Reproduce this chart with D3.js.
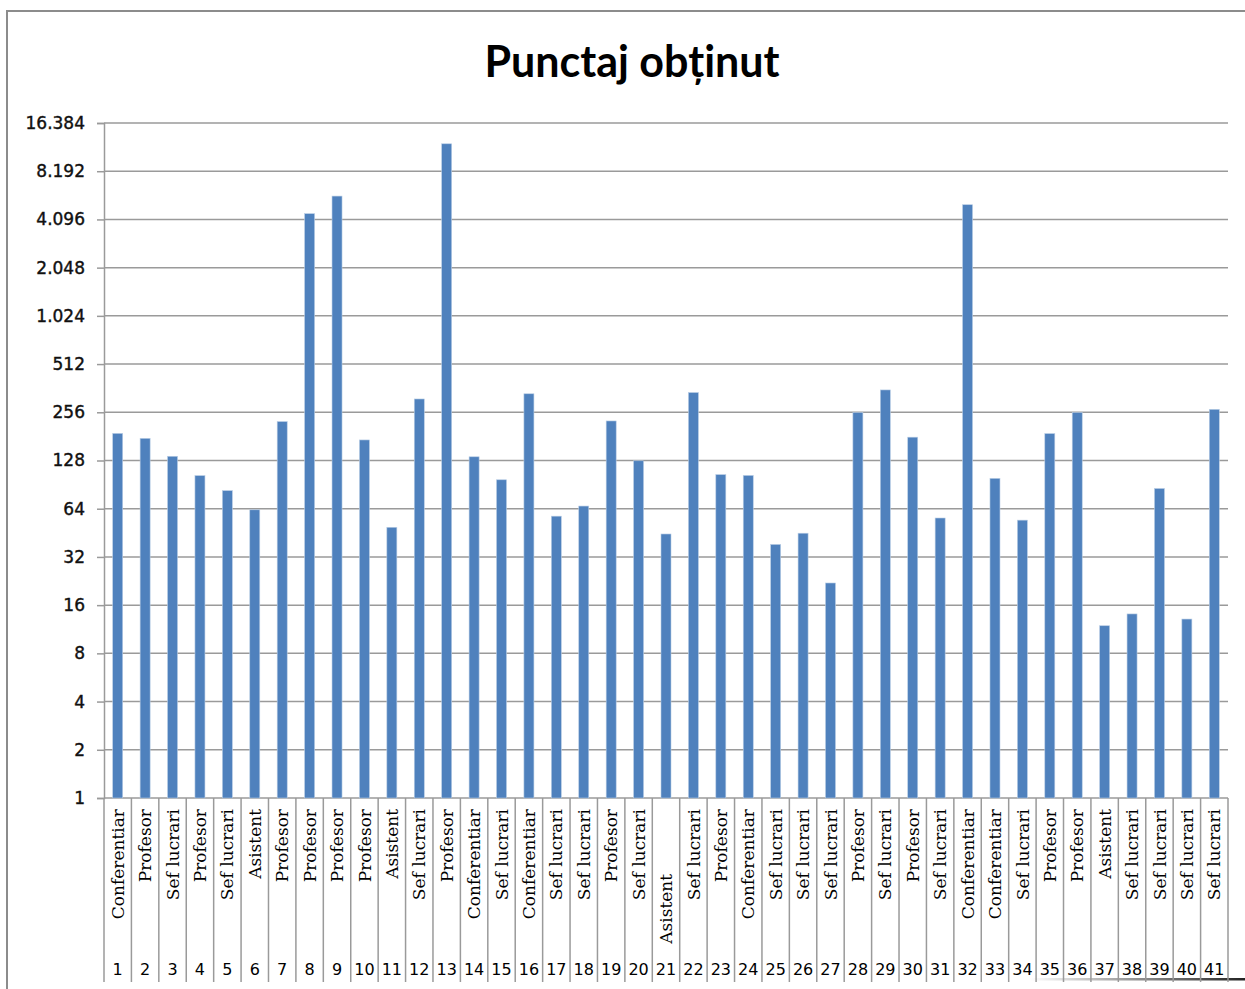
<!DOCTYPE html>
<html>
<head>
<meta charset="utf-8">
<script src="https://cdn.jsdelivr.net/npm/d3@7"></script>
<style>
  body { margin: 0; background: #fff; }
  svg { display: block; }
</style>
</head>
<body>
<div id="chart"></div>
<script>
// data
var ids = d3.range(1, 42).map(String);
var ranks = ["Conferentiar", "Profesor", "Sef lucrari", "Profesor", "Sef lucrari", "Asistent", "Profesor",
  "Profesor", "Profesor", "Profesor", "Asistent", "Sef lucrari", "Profesor", "Conferentiar",
  "Sef lucrari", "Conferentiar", "Sef lucrari", "Sef lucrari", "Profesor", "Sef lucrari",
  "Asistent            ", "Sef lucrari", "Profesor", "Conferentiar", "Sef lucrari", "Sef lucrari",
  "Sef lucrari", "Profesor", "Sef lucrari", "Profesor", "Sef lucrari", "Conferentiar",
  "Conferentiar", "Sef lucrari", "Profesor", "Profesor", "Asistent", "Sef lucrari",
  "Sef lucrari", "Sef lucrari", "Sef lucrari"];
var scores = [189, 176, 136, 103, 83, 63, 224, 4450, 5730, 172, 49, 310, 12150, 135,
  97, 334, 57.5, 66.5, 226, 127.5, 44.5, 340, 104.5, 103.3, 38.3, 45, 22, 255, 353, 179,
  56, 5060, 99, 54.3, 188.5, 255, 11.9, 14.1, 85.6, 13.1, 267];
var yTicks = [1, 2, 4, 8, 16, 32, 64, 128, 256, 512, 1024, 2048, 4096, 8192, 16384];

var width = 1245, height = 989;
var plot = {left: 104, right: 1228, top: 123, bottom: 798, catBottom: 982};

var svg = d3.select("#chart").append("svg")
  .attr("width", width)
  .attr("height", height);

// chart frame
svg.append("rect")
  .attr("x", 7).attr("y", 11)
  .attr("width", 1300).attr("height", 1100)
  .attr("fill", "none")
  .attr("stroke", "#8c8c8c")
  .attr("stroke-width", 2);

// little page shadow at the bottom right
var grad = svg.append("defs").append("linearGradient").attr("id", "shade");
grad.append("stop").attr("offset", "0%").attr("stop-color", "#fff");
grad.append("stop").attr("offset", "100%").attr("stop-color", "#222");
svg.append("rect")
  .attr("x", 1030).attr("y", 978)
  .attr("width", 215).attr("height", 2.5)
  .attr("fill", "url(#shade)");

svg.append("text")
  .attr("x", 632)
  .attr("y", 77)
  .attr("text-anchor", "middle")
  .attr("font-family", "Lato, 'Liberation Sans', sans-serif")
  .attr("font-weight", 700)
  .attr("font-size", 43)
  .attr("fill", "#000")
  .text("Punctaj obținut");

var x = d3.scaleBand().domain(ids).range([plot.left, plot.right]).paddingInner(0.635).paddingOuter(0.3175);
var xCell = d3.scaleBand().domain(ids).range([plot.left, plot.right]);
var y = d3.scaleLog().base(2).domain([1, 16384]).range([plot.bottom, plot.top]);

var ro = d3.formatLocale({decimal: ",", thousands: ".", grouping: [3], currency: ["", ""]});
var fmt = ro.format(",d");

// gridlines
svg.append("g").selectAll("line")
  .data(yTicks)
  .enter().append("line")
  .attr("x1", plot.left).attr("x2", plot.right)
  .attr("y1", function(d){ return y(d); })
  .attr("y2", function(d){ return y(d); })
  .attr("stroke", "#9a9a9a")
  .attr("stroke-width", 1.5);

// y axis
var yAxis = svg.append("g")
  .attr("transform", "translate(" + plot.left + ",0)")
  .call(d3.axisLeft(y).tickValues(yTicks).tickFormat(fmt).tickSize(7).tickPadding(12));
yAxis.select(".domain").attr("stroke", "#9a9a9a").attr("stroke-width", 1.5);
yAxis.selectAll(".tick line").attr("stroke", "#9a9a9a").attr("stroke-width", 1.5);
yAxis.selectAll("text")
  .attr("font-family", "'DejaVu Sans', sans-serif")
  .attr("font-size", 17)
  .attr("fill", "#111")
  .attr("stroke", "#111")
  .attr("stroke-width", 0.4);

// bars
svg.append("g").selectAll("rect")
  .data(scores)
  .enter().append("rect")
  .attr("x", function(d, i){ return x(ids[i]); })
  .attr("width", x.bandwidth())
  .attr("y", function(d){ return y(d); })
  .attr("height", function(d){ return plot.bottom - y(d); })
  .attr("fill", "#4f81bd")
  .attr("stroke", "#b9cde5")
  .attr("stroke-width", 0.6);

// category separators (two-level axis)
var seps = ids.map(function(d){ return xCell(d); }).concat([plot.right]);
svg.append("g").selectAll("line")
  .data(seps)
  .enter().append("line")
  .attr("x1", function(d){ return d; }).attr("x2", function(d){ return d; })
  .attr("y1", plot.bottom).attr("y2", plot.catBottom)
  .attr("stroke", "#9a9a9a")
  .attr("stroke-width", 1.5);

// rank labels, rotated
svg.append("g").selectAll("text")
  .data(ranks)
  .enter().append("text")
  .attr("transform", function(d, i){
    return "translate(" + (xCell(ids[i]) + xCell.bandwidth() / 2) + "," + 809 + ") rotate(-90)";
  })
  .attr("text-anchor", "end")
  .attr("dy", "0.36em")
  .attr("font-family", "'DejaVu Serif', serif")
  .attr("font-size", 17)
  .attr("fill", "#000")
  .style("white-space", "pre")
  .text(function(d){ return d; });

// numbers
svg.append("g").selectAll("text")
  .data(ids)
  .enter().append("text")
  .attr("x", function(d){ return xCell(d) + xCell.bandwidth() / 2; })
  .attr("y", 975)
  .attr("text-anchor", "middle")
  .attr("font-family", "'DejaVu Sans', sans-serif")
  .attr("font-size", 16)
  .attr("fill", "#000")
  .text(function(d){ return d; });
</script>
</body>
</html>
